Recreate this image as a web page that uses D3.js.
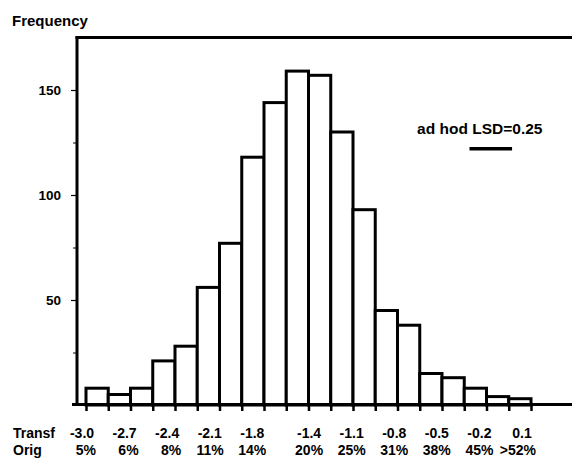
<!DOCTYPE html>
<html>
<head>
<meta charset="utf-8">
<script src="https://cdn.jsdelivr.net/npm/d3@7"></script>
<style>
  html, body { margin: 0; padding: 0; background: #fff; }
  svg text { font-family: "Liberation Sans", Arial, sans-serif; font-weight: bold; fill: #000; }
</style>
</head>
<body>
<svg id="chart" width="572" height="461"></svg>
<script>
// ---- data ----
const binIndex = d3.range(20);
const frequencies = [8, 5, 8, 21, 28, 56, 77, 118, 144, 159, 157, 130, 93, 45, 38, 15, 13, 8, 4, 3];
const transfLabels = [-3.0, -2.7, -2.4, -2.1, -1.8, -1.4, -1.1, -0.8, -0.5, -0.2, 0.1];
const origLabels = ["5%", "6%", "8%", "11%", "14%", "20%", "25%", "31%", "38%", "45%", ">52%"];
const yMajorTicks = [50, 100, 150];
const yMinorTicks = [25, 75, 125];
const lsdLabel = "ad hod LSD=0.25";
const lsdSpan = [-0.27, 0.03];   // transformed-scale extent of the LSD bar
const lsdLevel = 122;            // frequency level of the LSD bar

// ---- layout ----
const W = 572, H = 461;
const mLeft = 77, mTop = 37.5;
const svg = d3.select("#chart");

const y = d3.scaleLinear().domain([0, 175]).range([405, mTop]);
const xBin = d3.scaleLinear().domain([0, 20]).range([86, 531]);
const xLab = d3.scaleLinear().domain([-3.0, 0.1]).range([82, 522]);

// bars
svg.append("g").selectAll("rect")
  .data(binIndex)
  .join("rect")
  .attr("x", i => xBin(i))
  .attr("width", i => xBin(i + 1) - xBin(i))
  .attr("y", i => y(frequencies[i]))
  .attr("height", i => y(0) - y(frequencies[i]))
  .attr("fill", "#fff")
  .attr("stroke", "#000")
  .attr("stroke-width", 3);

// x ticks at bin edges
const xAxis = svg.append("g")
  .attr("transform", `translate(0,${y(0)})`)
  .call(d3.axisBottom(xBin).tickValues(d3.range(21)).tickSize(6).tickFormat(""));
xAxis.select(".domain").remove();
xAxis.selectAll(".tick line").attr("stroke", "#000").attr("stroke-width", 2.5);

// y ticks
const yMaj = svg.append("g")
  .attr("transform", `translate(${mLeft},0)`)
  .call(d3.axisLeft(y).tickValues(yMajorTicks).tickSize(6).tickPadding(10));
yMaj.select(".domain").remove();
yMaj.selectAll(".tick line").attr("stroke", "#000").attr("stroke-width", 1.2);
yMaj.selectAll(".tick text").attr("font-size", 13.5).attr("font-family", "Liberation Sans").attr("font-weight", "bold").attr("fill", "#000");

const yMin = svg.append("g")
  .attr("transform", `translate(${mLeft},0)`)
  .call(d3.axisLeft(y).tickValues(yMinorTicks).tickSize(4).tickFormat(""));
yMin.select(".domain").remove();
yMin.selectAll(".tick line").attr("stroke", "#000").attr("stroke-width", 1);

// frame lines
svg.append("line").attr("x1", mLeft).attr("x2", mLeft).attr("y1", mTop - 1.5).attr("y2", y(0))
  .attr("stroke", "#000").attr("stroke-width", 3);
svg.append("line").attr("x1", mLeft - 1.5).attr("x2", W).attr("y1", mTop).attr("y2", mTop)
  .attr("stroke", "#000").attr("stroke-width", 3);
svg.append("line").attr("x1", mLeft - 5).attr("x2", W).attr("y1", y(0) - 0.5).attr("y2", y(0) - 0.5)
  .attr("stroke", "#000").attr("stroke-width", 3);

// title
svg.append("text").attr("x", 12).attr("y", 25.5).attr("font-size", 15).text("Frequency");

// bottom labels
svg.append("text").attr("x", 13).attr("y", 438).attr("font-size", 14).text("Transf");
svg.append("text").attr("x", 13).attr("y", 455).attr("font-size", 14).text("Orig");

svg.append("g").selectAll("text")
  .data(transfLabels)
  .join("text")
  .attr("x", d => xLab(d))
  .attr("y", 438)
  .attr("text-anchor", "middle")
  .attr("font-size", 14)
  .text(d => d.toFixed(1));

svg.append("g").selectAll("text")
  .data(origLabels)
  .join("text")
  .attr("x", (d, i) => xLab(transfLabels[i]) + 14)
  .attr("y", 455)
  .attr("text-anchor", "end")
  .attr("font-size", 14)
  .text(d => d);

// LSD annotation
svg.append("text")
  .attr("x", (xLab(lsdSpan[0]) + xLab(lsdSpan[1])) / 2 - 11)
  .attr("y", 134)
  .attr("text-anchor", "middle")
  .attr("font-size", 15.5)
  .text(lsdLabel);
svg.append("line")
  .attr("x1", xLab(lsdSpan[0])).attr("x2", xLab(lsdSpan[1]))
  .attr("y1", y(lsdLevel)).attr("y2", y(lsdLevel))
  .attr("stroke", "#000").attr("stroke-width", 3.5);
</script>
</body>
</html>
